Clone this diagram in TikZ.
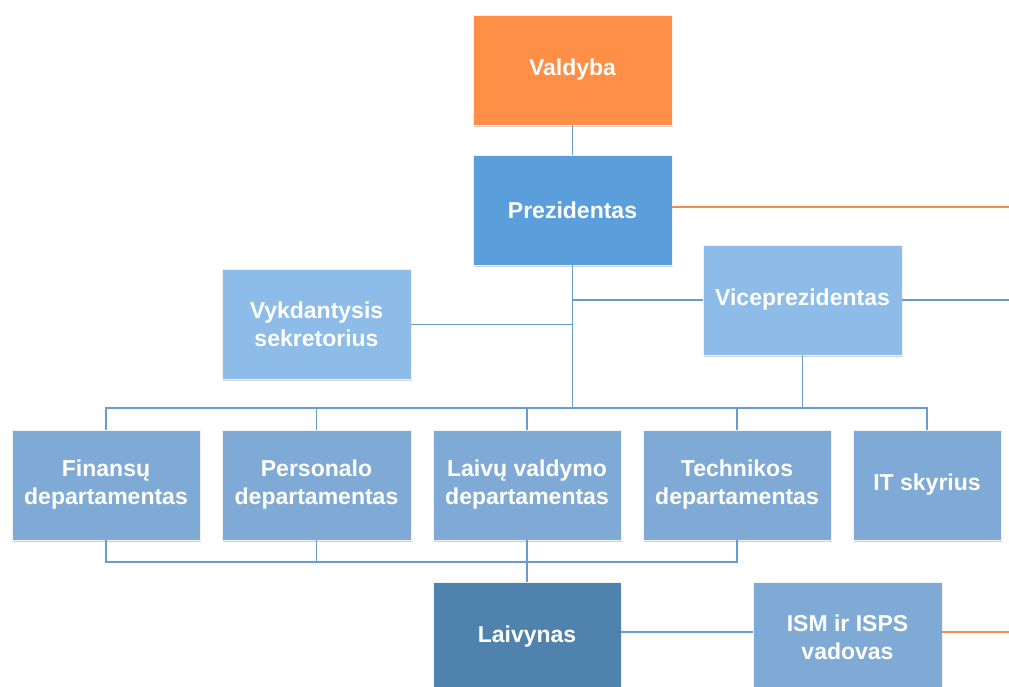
\documentclass[tikz,border=0pt]{standalone}
\usepackage{fontspec}
\setmainfont{Liberation Sans}
\usetikzlibrary{shadows}
\definecolor{boardorange}{HTML}{FF8E46}
\definecolor{presblue}{HTML}{5B9EDC}
\definecolor{viceblue}{HTML}{8EBCE8}
\definecolor{deptblue}{HTML}{7FAAD6}
\definecolor{fleetblue}{HTML}{5082AE}
\definecolor{lineblue}{HTML}{6A9CD0}
\definecolor{lineorange}{HTML}{F28C4A}
\begin{document}
\begin{tikzpicture}[x=1pt,y=-1pt,
        box/.style={draw=white!90!gray, line width=0.8pt, text=white, align=center,
            font=\fontsize{23}{28}\selectfont\bfseries, inner sep=0pt,
            minimum height=110pt,
            drop shadow={shadow xshift=1pt, shadow yshift=-1.5pt, opacity=0.18, fill=black}},
        link/.style={draw=lineblue, line width=1.7pt},
        hot/.style={draw=lineorange, line width=1.7pt}]
        \useasboundingbox (0,0) rectangle (1009,686);

        \node[box, fill=boardorange, minimum width=199pt] (valdyba) at (572.5,70) {Valdyba};
        \node[box, fill=presblue, minimum width=199pt] (prez) at (572.5,210) {Prezidentas};
        \node[box, fill=viceblue, minimum width=189pt] (sekr) at (316.5,324.5) {Vykdantysis\\sekretorius};
        \node[box, fill=viceblue, minimum width=199pt] (vice) at (802.5,300) {Viceprezidentas};

        \node[box, fill=deptblue, minimum width=188pt] (fin) at (106,485) {Finansų\\departamentas};
        \node[box, fill=deptblue, minimum width=189pt] (pers) at (316.5,485) {Personalo\\departamentas};
        \node[box, fill=deptblue, minimum width=188pt] (laiv) at (527,485) {Laivų valdymo\\departamentas};
        \node[box, fill=deptblue, minimum width=188pt] (tech) at (737,485) {Technikos\\departamentas};
        \node[box, fill=deptblue, minimum width=148pt] (it) at (927,485) {IT skyrius};

        \node[box, fill=fleetblue, minimum width=188pt] (laivynas) at (527,637) {Laivynas};
        \node[box, fill=deptblue, minimum width=189pt] (ism) at (847.5,637) {ISM ir ISPS\\vadovas};

        \coordinate (topbus) at (572.5,408);
        \coordinate (lowbus) at (527,562);
        \coordinate (prezR) at (1009,207);
        \coordinate (viceR) at (1009,300);
        \coordinate (ismR) at (1009,632);

        \draw[link] (valdyba.south) -- (prez.north);
        \draw[hot] (prez.east |- prezR) -- (prezR);
        \draw[link] (prez.south) -- (topbus);
        \draw[link] (sekr.east) -- (sekr.east -| prez.south);
        \draw[link] (vice.west) -- (vice.west -| prez.south);
        \draw[link] (vice.east) -- (viceR);
        \draw[link] (vice.south) -- (vice.south |- topbus);
        \draw[link] (fin.north) |- (topbus) -| (it.north);
        \draw[link] (topbus) -| (pers.north);
        \draw[link] (topbus) -| (laiv.north);
        \draw[link] (topbus) -| (tech.north);
        \draw[link] (fin.south) |- (lowbus) -| (tech.south);
        \draw[link] (pers.south) -- (pers.south |- lowbus);
        \draw[link] (laiv.south) -- (laivynas.north);
        \draw[link] ([yshift=5pt]laivynas.east) -- ([yshift=5pt]ism.west);
        \draw[hot] ([yshift=5pt]ism.east) -- (ismR);
    \end{tikzpicture}
\end{document}
